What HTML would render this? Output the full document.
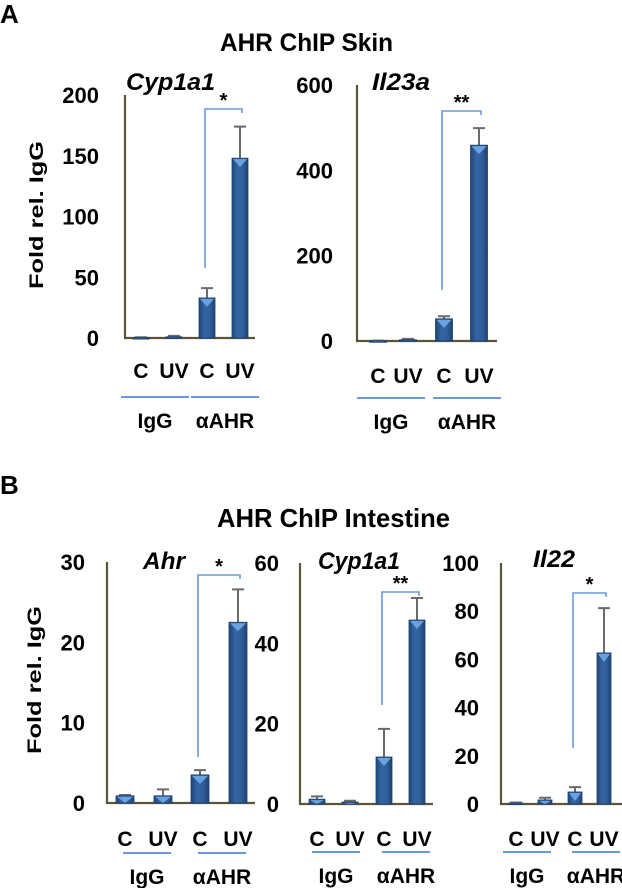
<!DOCTYPE html>
<html><head><meta charset="utf-8"><style>
html,body{margin:0;padding:0;background:#fff;}
svg{display:block;font-family:"Liberation Sans",Arial,sans-serif;}
</style></head><body>
<svg id="fig" width="622" height="888" viewBox="0 0 622 888" xmlns="http://www.w3.org/2000/svg">
<defs>
<linearGradient id="barg" x1="0" x2="1" y1="0" y2="0">
<stop offset="0" stop-color="#1f4678"/><stop offset="0.35" stop-color="#3465a4"/><stop offset="0.7" stop-color="#2f5e9a"/><stop offset="1" stop-color="#1d4272"/>
</linearGradient>
</defs>
<text x="0" y="23" font-size="26" font-weight="bold">A</text>
<text x="220" y="51" font-size="25" font-weight="bold" textLength="173" lengthAdjust="spacingAndGlyphs">AHR ChIP Skin</text>
<text x="0" y="494" font-size="26" font-weight="bold">B</text>
<text x="217" y="527" font-size="26" font-weight="bold" textLength="233" lengthAdjust="spacingAndGlyphs">AHR ChIP Intestine</text>
<text transform="translate(43,215) rotate(-90)" font-size="19" font-weight="bold" text-anchor="middle" textLength="148" lengthAdjust="spacingAndGlyphs">Fold rel. IgG</text>
<text transform="translate(41,680) rotate(-90)" font-size="19" font-weight="bold" text-anchor="middle" textLength="148" lengthAdjust="spacingAndGlyphs">Fold rel. IgG</text>
<g id="plots"></g>
</svg>
<script>
// Category labels
const conditions = ["C", "UV", "C", "UV"];
const groups = ["IgG", "\u03b1AHR"];
// Panel A1: Cyp1a1 skin
const a1Values = [0.3, 1.0, 33, 148];
const a1Errors = [0.3, 0.8, 8, 26];
const a1Ticks = [0, 50, 100, 150, 200];
// Panel A2: Il23a skin
const a2Values = [0.5, 3, 52, 459];
const a2Errors = [0.5, 2, 6, 40];
const a2Ticks = [0, 200, 400, 600];
// Panel B1: Ahr intestine
const b1Values = [0.9, 0.9, 3.5, 22.5];
const b1Errors = [0.1, 0.8, 0.6, 4.1];
const b1Ticks = [0, 10, 20, 30];
// Panel B2: Cyp1a1 intestine
const b2Values = [1.2, 0.5, 11.7, 45.8];
const b2Errors = [0.7, 0.3, 7.0, 5.5];
const b2Ticks = [0, 20, 40, 60];
// Panel B3: Il22 intestine
const b3Values = [0.4, 1.7, 5.0, 62.7];
const b3Errors = [0.2, 0.9, 2.0, 18.6];
const b3Ticks = [0, 20, 40, 60, 80, 100];

const NS = "http://www.w3.org/2000/svg";
const root = document.getElementById("plots");
function mk(tag, attrs, parent) {
  const e = document.createElementNS(NS, tag);
  for (const k in attrs) e.setAttribute(k, attrs[k]);
  (parent || root).appendChild(e);
  return e;
}

function panel(cfg) {
  const g = mk("g", {});
  
  
  const maxV = cfg.ticks[cfg.ticks.length - 1];
  const y = v => cfg.base - (v / maxV) * (cfg.base - cfg.top);
  cfg.ticks.forEach(t => {
    const tx = mk("text", {x: cfg.tickX, y: y(t) + 8, "font-size": 22, "font-weight": "bold", "text-anchor": "end", fill: "#000"}, g);
    
    
    tx.textContent = t;
  });
  const ax = mk("path", {d: `M${cfg.axisX},${cfg.top} V${cfg.base} H${cfg.axisEnd}`, stroke: "#5a5438", "stroke-width": 2.2, fill: "none"}, g);
  
  
  cfg.values.forEach((v, i) => {
    const cx = cfg.cx[i], w = cfg.bw;
    const top = y(v);
    const et = y(v + cfg.errors[i]);
    const el = mk("path", {d: `M${cx},${top} V${et} M${cx - 6},${et} H${cx + 6}`, stroke: "#6a6a6a", "stroke-width": 2, fill: "none"}, g);
    
    
    const r = mk("rect", {x: cx - w / 2, y: top, width: w, height: Math.max(cfg.base - top, 1.5), fill: "url(#barg)", stroke: "#1d3f6e", "stroke-width": 0.8}, g);
    
    
    const h = Math.min(9, cfg.base - top);
    if (h > 2) {
      const tri = mk("path", {d: `M${cx - w / 2 + 1},${top + 1} H${cx + w / 2 - 1} L${cx},${top + h} Z`, fill: "#6aa2e0"}, g);
      
      
    }
  });
  const b = cfg.br;
  const bp = mk("path", {d: `M${cfg.cx[2] - 2},${b[0]} V${b[1]} H${cfg.cx[3] + 2} V${b[1] + 4}`, stroke: "#6b9bd6", "stroke-width": 1.6, fill: "none"}, g);
  
  
  const st = mk("text", {x: (cfg.cx[2] + cfg.cx[3]) / 2, y: b[1] - 2, "font-size": 20, "font-weight": "bold", "text-anchor": "middle"}, g);
  
  
  st.textContent = cfg.stars;
  const gt = mk("text", {x: cfg.titleX, y: cfg.titleY, "font-size": 24, "font-weight": "bold", "font-style": "italic", textLength: cfg.titleW, lengthAdjust: "spacingAndGlyphs"}, g);
  
  
  gt.textContent = cfg.title;
  conditions.forEach((c, i) => {
    const t = mk("text", {x: cfg.cx[i], y: cfg.labY, "font-size": 21, "font-weight": "bold", "text-anchor": "middle"}, g);
    
    
    t.textContent = c;
  });
  groups.forEach((gn, k) => {
    const l = cfg.lines[k];
    const ln = mk("line", {x1: l[0], x2: l[1], y1: cfg.lineY, y2: cfg.lineY, stroke: "#6b9bd6", "stroke-width": 2}, g);
    
    
    const t = mk("text", {x: (l[0] + l[1]) / 2, y: cfg.lineY + 31, "font-size": 21, "font-weight": "bold", "text-anchor": "middle"}, g);
    
    
    t.textContent = gn;
  });
}

panel({name: "skin-cyp1a1", values: a1Values, errors: a1Errors, ticks: a1Ticks, top: 95, base: 338, axisX: 125, axisEnd: 255, tickX: 99,
  cx: [141, 174, 207, 240], bw: 16, br: [268, 109], stars: "*", title: "Cyp1a1", titleX: 126, titleY: 90, titleW: 89, labY: 378, lines: [[121, 189], [191, 259]], lineY: 397});
panel({name: "skin-il23a", values: a2Values, errors: a2Errors, ticks: a2Ticks, top: 85, base: 341, axisX: 357, axisEnd: 497, tickX: 333,
  cx: [378, 408, 444, 479], bw: 17, br: [290, 111], stars: "**", title: "Il23a", titleX: 372, titleY: 90, titleW: 58, labY: 383, lines: [[357, 425], [433, 501]], lineY: 398});
panel({name: "intestine-ahr", values: b1Values, errors: b1Errors, ticks: b1Ticks, top: 562, base: 803, axisX: 107, axisEnd: 255, tickX: 85,
  cx: [125, 163, 200, 238], bw: 18, br: [757, 575], stars: "*", title: "Ahr", titleX: 143, titleY: 569, titleW: 42, labY: 846, lines: [[123, 171], [198, 246]], lineY: 853});
panel({name: "intestine-cyp1a1", values: b2Values, errors: b2Errors, ticks: b2Ticks, top: 563, base: 804, axisX: 300, axisEnd: 433, tickX: 279,
  cx: [317, 350, 384, 417], bw: 16, br: [705, 592], stars: "**", title: "Cyp1a1", titleX: 318, titleY: 569, titleW: 82, labY: 846, lines: [[312, 360], [382, 430]], lineY: 852});
panel({name: "intestine-il22", values: b3Values, errors: b3Errors, ticks: b3Ticks, top: 563, base: 804, axisX: 501, axisEnd: 622, tickX: 479,
  cx: [516, 545, 575, 604], bw: 14, br: [748, 593], stars: "*", title: "Il22", titleX: 533, titleY: 567, titleW: 42, labY: 846, lines: [[503, 551], [572, 620]], lineY: 852});
</script>
</body></html>
